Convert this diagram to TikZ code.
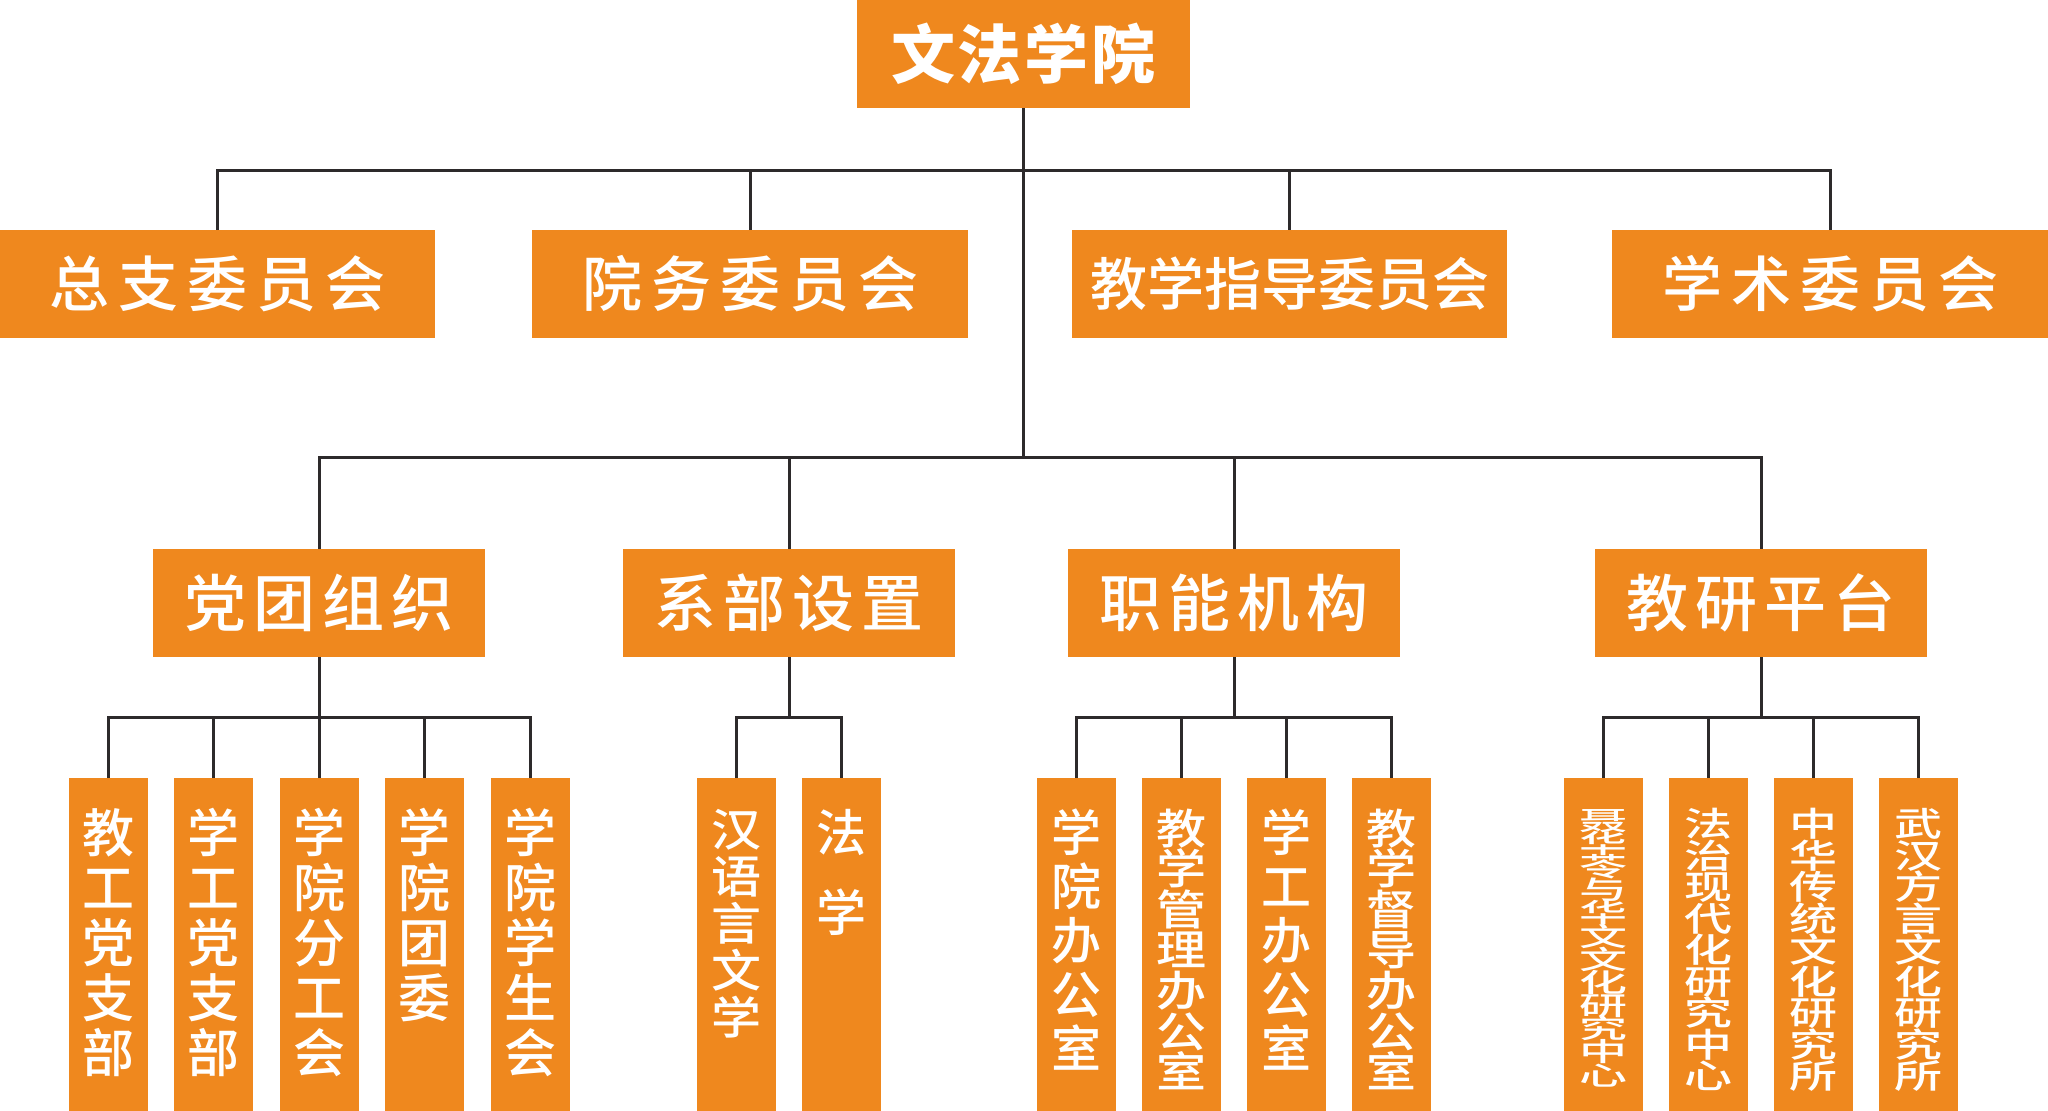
\documentclass[tikz,border=0pt]{standalone}
\usepackage{fontspec}
\usepackage{graphicx}
\IfFontExistsTF{Noto Sans CJK SC Medium}
  {\newfontfamily\cjk{Noto Sans CJK SC Medium}}
  {\newfontfamily\cjk[FakeBold=1]{Noto Sans CJK SC}}
\IfFontExistsTF{Noto Sans CJK SC Black}
  {\newfontfamily\cjkh{Noto Sans CJK SC Black}}
  {\newfontfamily\cjkh[FakeBold=1]{Noto Sans CJK SC Bold}}
\definecolor{org}{RGB}{239,136,30}
\definecolor{ln}{RGB}{45,42,43}
\makeatletter
\newcommand\spreadtext[2]{\begingroup\def\sp@gap{#1}\let\sp@first\relax\@tfor\sp@c:=#2\do{\ifx\sp@first\relax\let\sp@first\empty\else\kern\sp@gap\fi\sp@c}\endgroup}
\newlength\vl@skip
% #1 font size, #2 yscale, #3 pitch before scaling (number), #4 chars
\newcommand\vlab[4]{\pgfmathsetlength{\vl@skip}{29-(#3-0.88*#1)*#2}\vbox to 333pt{\vskip\vl@skip\hbox to 79pt{\hss\scalebox{1}[#2]{\vbox{\offinterlineskip\cjk\fontsize{#1}{#1}\selectfont\@tfor\vl@c:=#4\do{\hbox{\raisebox{0pt}[#3pt][0pt]{\vl@c}}}}}\hss}\vss}}
\makeatother
\begin{document}
\begin{tikzpicture}[x=1pt,y=-1pt,
  conn/.style={draw=ln,line width=3pt},
  obox/.style={fill=org,text=white,inner sep=0pt,minimum height=108pt},
  leaf/.style={fill=org,text=white,inner sep=0pt,minimum width=79pt,anchor=north}]
\useasboundingbox (0,0) rectangle (2048,1111);
\fill[white] (0,0) rectangle (2048,1111);
% top
\node[obox,minimum width=333pt,font=\cjkh\fontsize{64}{64}\selectfont] (top) at (1023.5,54) {\spreadtext{3pt}{文法学院}};
% level 1
\begin{scope}[every node/.append style={font=\cjk\fontsize{60}{60}\selectfont}]
\node[obox,minimum width=435pt] (A) at (217.5,284) {\spreadtext{9pt}{总支委员会}};
\node[obox,minimum width=436pt] (B) at (750,284) {\spreadtext{9pt}{院务委员会}};
\node[obox,minimum width=435pt,font=\cjk\fontsize{57}{57}\selectfont] (C) at (1289.5,284) {\spreadtext{0pt}{教学指导委员会}};
\node[obox,minimum width=436pt] (D) at (1830,284) {\spreadtext{9pt}{学术委员会}};
\end{scope}
% level 2
\begin{scope}[every node/.append style={font=\cjk\fontsize{62}{62}\selectfont}]
\node[obox,minimum width=332pt] (P1) at (319,603) {\spreadtext{7pt}{党团组织}};
\node[obox,minimum width=332pt] (P2) at (789,603) {\spreadtext{7pt}{系部设置}};
\node[obox,minimum width=332pt] (P3) at (1234,603) {\spreadtext{7pt}{职能机构}};
\node[obox,minimum width=332pt] (P4) at (1761,603) {\spreadtext{7pt}{教研平台}};
\end{scope}
% leaves
\node[leaf] (L1) at (108,778) {\vlab{52}{1}{55}{教工党支部}};
\node[leaf] (L2) at (213.5,778) {\vlab{52}{1}{55}{学工党支部}};
\node[leaf] (L3) at (319,778) {\vlab{52}{1}{55}{学院分工会}};
\node[leaf] (L4) at (424.5,778) {\vlab{52}{1}{55}{学院团委}};
\node[leaf] (L5) at (530,778) {\vlab{52}{1}{55}{学院学生会}};
\node[leaf] (D1) at (736.5,778) {\vlab{50}{0.9}{52}{汉语言文学}};
\node[leaf] (D2) at (841.5,778) {\vlab{50}{1}{80}{法学}};
\node[leaf] (F1) at (1076.5,778) {\vlab{50}{1}{54}{学院办公室}};
\node[leaf] (F2) at (1181.5,778) {\vlab{50}{0.84}{48.3}{教学管理办公室}};
\node[leaf] (F3) at (1286.5,778) {\vlab{50}{1}{54}{学工办公室}};
\node[leaf] (F4) at (1391.5,778) {\vlab{50}{0.84}{48.3}{教学督导办公室}};
\node[leaf] (R1) at (1603.5,778) {\vlab{48}{0.545}{42.5}{聂华苓与华文文化研究中心}};
\node[leaf] (R2) at (1708.5,778) {\vlab{48}{0.7}{45}{法治现代化研究中心}};
\node[leaf] (R3) at (1813.5,778) {\vlab{48}{0.7}{45}{中华传统文化研究所}};
\node[leaf] (R4) at (1918.5,778) {\vlab{48}{0.7}{45}{武汉方言文化研究所}};
% bus lines
\coordinate (b1) at (0,170);
\coordinate (b2) at (0,457);
\coordinate (b3) at (0,717);
\draw[conn] (top.south) -- (top.south |- b2);
\draw[conn] (A.north) -- (A.north |- b1) -- (D.north |- b1) -- (D.north);
\draw[conn] (B.north) -- (B.north |- b1);
\draw[conn] (C.north) -- (C.north |- b1);
\draw[conn] (P1.north) -- (P1.north |- b2) -- (P4.north |- b2) -- (P4.north);
\draw[conn] (P2.north) -- (P2.north |- b2);
\draw[conn] (P3.north) -- (P3.north |- b2);
% party
\draw[conn] (P1.south) -- (P1.south |- b3);
\draw[conn] (L1.north) -- (L1.north |- b3) -- (L5.north |- b3) -- (L5.north);
\draw[conn] (L2.north) -- (L2.north |- b3);
\draw[conn] (L3.north) -- (L3.north |- b3);
\draw[conn] (L4.north) -- (L4.north |- b3);
% departments
\draw[conn] (P2.south) -- (P2.south |- b3);
\draw[conn] (D1.north) -- (D1.north |- b3) -- (D2.north |- b3) -- (D2.north);
% functional
\draw[conn] (P3.south) -- (P3.south |- b3);
\draw[conn] (F1.north) -- (F1.north |- b3) -- (F4.north |- b3) -- (F4.north);
\draw[conn] (F2.north) -- (F2.north |- b3);
\draw[conn] (F3.north) -- (F3.north |- b3);
% research
\draw[conn] (P4.south) -- (P4.south |- b3);
\draw[conn] (R1.north) -- (R1.north |- b3) -- (R4.north |- b3) -- (R4.north);
\draw[conn] (R2.north) -- (R2.north |- b3);
\draw[conn] (R3.north) -- (R3.north |- b3);
\end{tikzpicture}
\end{document}
